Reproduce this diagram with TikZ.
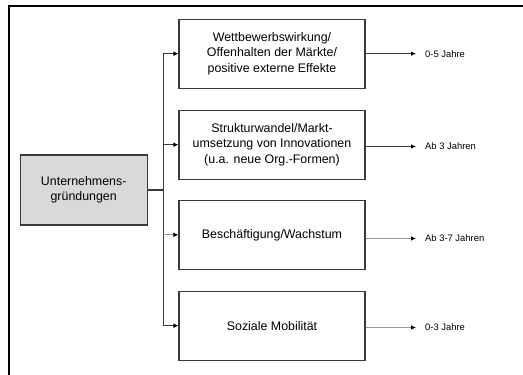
\documentclass[tikz,border=0pt]{standalone}
\usepackage{fontspec}
\setmainfont{Liberation Sans}
\usetikzlibrary{arrows.meta}
\definecolor{boxline}{HTML}{3A3A3A}
\definecolor{boxfill}{HTML}{D9D9D9}
\definecolor{lightline}{HTML}{9A9A9A}
\begin{document}
\begin{tikzpicture}[x=1pt,y=-1pt,
  effectbox/.style={draw=boxline,line width=1.1pt,fill=white,minimum width=186pt,minimum height=69pt,
    inner sep=0pt,align=center,font=\fontsize{12.4pt}{15.5pt}\selectfont},
  rootbox/.style={effectbox,fill=boxfill,minimum width=127pt,minimum height=70pt},
  link/.style={draw=boxline,line width=0.8pt},
  arrowlink/.style={link,-{Latex[length=5pt,width=4.5pt,color=black]}},
  timelabel/.style={anchor=west,inner sep=0pt,font=\fontsize{9.4pt}{11pt}\selectfont}]
\useasboundingbox (0,0) rectangle (523,375);
% outer frame (left and top edges)
\draw[line width=1.2pt] (9,375) -- (9,6) -- (523,6);

% root and effect boxes
\node[rootbox] (root) at (83.7,190) {Unternehmens-\\gründungen};
\node[effectbox] (e1) at (272,53.7) {Wettbewerbswirkung/\\Offenhalten der Märkte/\\positive externe Effekte};
\node[effectbox] (e2) at (272,144.7) {Strukturwandel/Markt-\\umsetzung von Innovationen\\(u.a. neue Org.-Formen)};
\node[effectbox] (e3) at (272,234.8) {Beschäftigung/Wachstum};
\node[effectbox] (e4) at (272,325.7) {Soziale Mobilität};

% tree connectors
\coordinate (junction) at (163,190);
\draw[link,line width=1.6pt] (root.east) -- (junction);
\draw[link] (163,53.7) -- (163,325.7);
\draw[arrowlink] (163,53.7) -- (e1.west);
\draw[arrowlink] (163,144.7) -- (e2.west);
\draw[arrowlink,draw=lightline] (163,234.8) -- (e3.west);
\draw[arrowlink] (163,325.7) -- (e4.west);

% time horizons
\coordinate (t1) at (416,53.7);
\coordinate (t2) at (416,146.5);
\coordinate (t3) at (416,238.5);
\coordinate (t4) at (416,327.5);
\draw[arrowlink] (e1.east |- t1) -- (t1);
\draw[arrowlink] (e2.east |- t2) -- (t2);
\draw[arrowlink,draw=lightline] (e3.east |- t3) -- (t3);
\draw[arrowlink,draw=lightline] (e4.east |- t4) -- (t4);
\node[timelabel] (l1) at (425,53.7) {0-5 Jahre};
\node[timelabel] (l2) at (425,146.5) {Ab 3 Jahren};
\node[timelabel] (l3) at (425,238.5) {Ab 3-7 Jahren};
\node[timelabel] (l4) at (425,327.5) {0-3 Jahre};
\end{tikzpicture}
\end{document}
